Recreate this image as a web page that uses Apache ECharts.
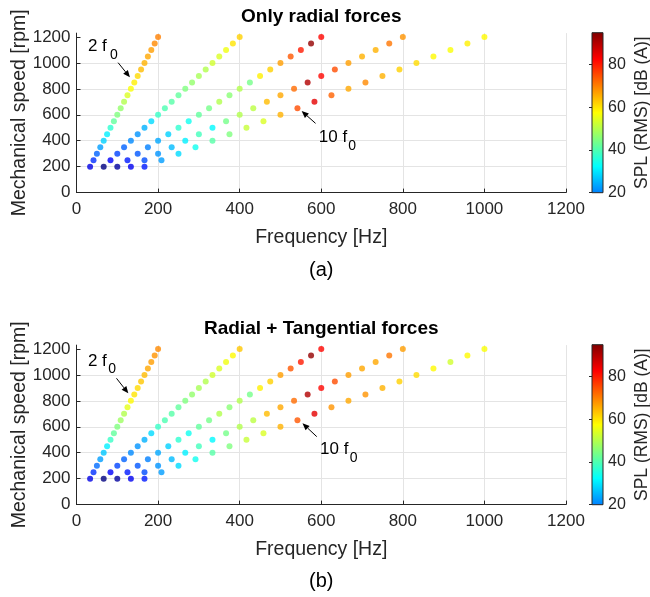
<!DOCTYPE html>
<html>
<head>
<meta charset="utf-8">
<script src="https://cdn.jsdelivr.net/npm/echarts@6/dist/echarts.min.js"></script>
<style>
  html, body { margin: 0; padding: 0; background: #ffffff; }
  #chart { width: 650px; height: 597px; }
</style>
</head>
<body>
<div id="chart"></div>
<script>
// Operating speeds of the sweep [rpm]
const speeds = [200, 250, 300, 350, 400, 450, 500, 550, 600, 650, 700,
                750, 800, 850, 900, 950, 1000, 1050, 1100, 1150, 1200];
// Harmonic orders of the electrical frequency f0 (5 pole pairs)
const orders = [2, 4, 6, 8, 10];
const polePairs = 5;

// SPL (RMS) [dB(A)] per harmonic order, one value per speed — radial forces only
const splRadial2f0  = [5, 12, 17, 23, 28, 31, 37, 42, 45, 47, 50, 54, 57, 59, 61, 64, 65, 66, 67, 69, 70];
const splRadial4f0  = [-5, 7, 14, 17, 21, 22, 25, 29, 38, 40, 41, 42, 45, 47, 49, 50, 53, 54, 56, 60, 62];
const splRadial6f0  = [-2, 10, 16, 20, 24, 28, 37, 34, 42, 44, 50, 46, 50, 44, 59, 62, 67, 74, 80, 93, 82];
const splRadial8f0  = [6, 15, 22, 26, 31, 39, 32, 44, 50, 51, 64, 66, 72, 90, 82, 75, 67, 65, 65, 71, 68];
const splRadial10f0 = [10, 23, 29, 34, 41, 45, 52, 54, 65, 75, 85, 73, 66, 69, 65, 62, 61, 58, 57, 59, 58];

// SPL (RMS) [dB(A)] per harmonic order — radial + tangential forces
const splTotal2f0  = [5, 12, 18, 23, 27, 31, 38, 42, 45, 48, 50, 55, 58, 60, 61, 63, 64, 66, 67, 68, 69];
const splTotal4f0  = [-5, 7, 14, 17, 21, 22, 25, 29, 38, 40, 41, 42, 45, 47, 49, 50, 53, 54, 56, 58, 63];
const splTotal6f0  = [-2, 10, 16, 20, 24, 28, 37, 34, 42, 44, 50, 46, 50, 44, 59, 62, 67, 74, 80, 93, 82];
const splTotal8f0  = [6, 15, 22, 26, 31, 39, 32, 44, 50, 51, 64, 66, 72, 90, 82, 75, 67, 66, 66, 71, 67];
const splTotal10f0 = [10, 23, 29, 34, 41, 45, 52, 54, 65, 74, 85, 68, 66, 68, 65, 62, 61, 58, 53, 58, 57];

// Axis ticks
const freqTicks = [0, 200, 400, 600, 800, 1000, 1200];
const speedTicks = [0, 200, 400, 600, 800, 1000, 1200];
const splTicks = [20, 40, 60, 80];

const FONT = "'Liberation Sans', Arial, Helvetica, sans-serif";
const INK = '#262626';
const GRID_LINE = '#e4e4e4';

// MATLAB-style jet colormap, evenly spaced stops
const jet = ['#00007f', '#0000ff', '#007fff', '#00ffff', '#7fff7f',
             '#ffff00', '#ff7f00', '#ff0000', '#7f0000'];
const colorMin = -5, colorMax = 95;
const barMin = 20, barMax = 95;

function buildPoints(tables) {
  const pts = [];
  orders.forEach((k, i) => {
    speeds.forEach((n, j) => {
      const f = k * polePairs * n / 60;  // harmonic frequency [Hz]
      pts.push([f, n, tables[i][j]]);
    });
  });
  return pts;
}
const radialPoints = buildPoints([splRadial2f0, splRadial4f0, splRadial6f0, splRadial8f0, splRadial10f0]);
const totalPoints = buildPoints([splTotal2f0, splTotal4f0, splTotal6f0, splTotal8f0, splTotal10f0]);

// Layout of the two panels (pixels)
const plotLeft = 76.5, plotWidth = 489.5, plotHeight = 159.5;
const panelTops = [33.1, 345.1];
const cbLeft = 592, cbWidth = 11;
const cbTops = [32.7, 344.7], cbHeight = 160;

const plain = v => String(v);

function mainAxes(idx) {
  const x = {
    gridIndex: idx, type: 'value', min: 0, max: 1200, interval: 200,
    axisLine: { show: true, onZero: false, lineStyle: { color: INK, width: 1 } },
    axisTick: { show: true, inside: true, length: 4, lineStyle: { color: INK } },
    axisLabel: { fontSize: 17, color: INK, margin: 8, fontFamily: FONT, customValues: freqTicks, formatter: plain },
    splitLine: { show: true, lineStyle: { color: GRID_LINE, width: 1 } },
    name: 'Frequency [Hz]', nameLocation: 'middle', nameGap: 35, nameMoveOverlap: false,
    nameTextStyle: { fontSize: 19.5, color: INK, fontFamily: FONT }
  };
  const y = {
    gridIndex: idx, type: 'value', min: 0, max: 1230, interval: 200,
    axisLine: { show: true, onZero: false, lineStyle: { color: INK, width: 1 } },
    axisTick: { show: true, inside: true, length: 4, lineStyle: { color: INK }, customValues: speedTicks },
    axisLabel: { fontSize: 17, color: INK, margin: 6, fontFamily: FONT, customValues: speedTicks, formatter: plain },
    splitLine: { show: true, showMaxLine: false, lineStyle: { color: GRID_LINE, width: 1 } },
    name: 'Mechanical speed [rpm]', nameLocation: 'middle', nameGap: 47, nameMoveOverlap: false,
    nameTextStyle: { fontSize: 19.5, color: INK, fontFamily: FONT }
  };
  return [x, y];
}

function colorbarAxes(idx) {
  const x = { gridIndex: idx, type: 'value', min: 0, max: 1, show: false };
  const y = {
    gridIndex: idx, type: 'value', position: 'right', min: barMin, max: barMax, interval: 20,
    axisLine: { show: false },
    axisTick: { show: true, inside: true, length: 3, lineStyle: { color: INK }, customValues: splTicks },
    axisLabel: { fontSize: 16, color: INK, margin: 5, fontFamily: FONT, customValues: splTicks, formatter: plain },
    splitLine: { show: false },
    name: 'SPL (RMS) [dB (A)]', nameLocation: 'middle', nameGap: 30, nameRotate: 90,
    nameTextStyle: { fontSize: 17.5, color: INK, fontFamily: FONT }
  };
  return [x, y];
}

const a0 = mainAxes(0), a1 = mainAxes(1), c0 = colorbarAxes(2), c1 = colorbarAxes(3);

// Colorbar gradient covering barMin..barMax of the jet range
function barGradient() {
  const stops = [];
  const step = (colorMax - colorMin) / (jet.length - 1);
  for (let i = 0; i < jet.length; i++) {
    const v = colorMin + step * i;
    if (v + step <= barMin) continue;
    const off = (barMax - v) / (barMax - barMin);
    stops.push({ offset: Math.min(1, Math.max(0, off)), color: jet[i] });
  }
  return new echarts.graphic.LinearGradient(0, 0, 0, 1, stops.sort((p, q) => p.offset - q.offset));
}

const chart = echarts.init(document.getElementById('chart'), null, { renderer: 'canvas' });

const gridBase = { containLabel: false, outerBoundsMode: 'none' };

const option = {
  animation: false,
  backgroundColor: '#ffffff',
  textStyle: { fontFamily: FONT },
  title: [
    { text: 'Only radial forces', left: plotLeft + plotWidth / 2, top: 7, textAlign: 'center', padding: 0,
      textStyle: { fontSize: 19, fontWeight: 'bold', color: '#000', fontFamily: FONT } },
    { text: 'Radial + Tangential forces', left: plotLeft + plotWidth / 2, top: 319, textAlign: 'center', padding: 0,
      textStyle: { fontSize: 19, fontWeight: 'bold', color: '#000', fontFamily: FONT } }
  ],
  grid: [
    Object.assign({ left: plotLeft, top: panelTops[0], width: plotWidth, height: plotHeight }, gridBase),
    Object.assign({ left: plotLeft, top: panelTops[1], width: plotWidth, height: plotHeight }, gridBase),
    Object.assign({ left: cbLeft, top: cbTops[0], width: cbWidth, height: cbHeight }, gridBase),
    Object.assign({ left: cbLeft, top: cbTops[1], width: cbWidth, height: cbHeight }, gridBase)
  ],
  xAxis: [a0[0], a1[0], c0[0], c1[0]],
  yAxis: [a0[1], a1[1], c0[1], c1[1]],
  visualMap: {
    type: 'continuous', show: false, min: colorMin, max: colorMax, dimension: 2,
    seriesIndex: [0, 1], inRange: { color: jet }
  },
  series: [
    { name: 'Only radial forces', type: 'scatter', xAxisIndex: 0, yAxisIndex: 0,
      symbol: 'circle', symbolSize: 6, data: radialPoints },
    { name: 'Radial + Tangential forces', type: 'scatter', xAxisIndex: 1, yAxisIndex: 1,
      symbol: 'circle', symbolSize: 6, data: totalPoints }
  ]
};
chart.setOption(option);

// Annotations anchored in data coordinates: label, its subscript, arrow tail and tip
const annotations = [
  { grid: 0, main: '2 f', at: [28, 1131], sub: [82, 1061], tail: [102, 1002], tip: [131, 889] },
  { grid: 0, main: '10 f', at: [594, 429], sub: [666, 359], tail: [586, 534], tip: [552, 629] },
  { grid: 1, main: '2 f', at: [28, 1107], sub: [78, 1046], tail: [98, 974], tip: [127, 858] },
  { grid: 1, main: '10 f', at: [597, 429], sub: [670, 359], tail: [589, 524], tip: [554, 627] }
];

function arrowShapes(p0, p1) {
  const dx = p1[0] - p0[0], dy = p1[1] - p0[1];
  const len = Math.hypot(dx, dy), ux = dx / len, uy = dy / len;
  const hl = 7, hw = 3;
  const base = [p1[0] - ux * hl, p1[1] - uy * hl];
  return [
    { type: 'line', shape: { x1: p0[0], y1: p0[1], x2: base[0], y2: base[1] },
      style: { stroke: '#000', lineWidth: 1 }, z: 10 },
    { type: 'polygon', shape: { points: [p1, [base[0] - uy * hw, base[1] + ux * hw], [base[0] + uy * hw, base[1] - ux * hw]] },
      style: { fill: '#000' }, z: 10 }
  ];
}

const graphics = [];
annotations.forEach(a => {
  const px = v => chart.convertToPixel({ gridIndex: a.grid }, v);
  const t = px(a.at), s = px(a.sub);
  graphics.push({ type: 'text', x: t[0], y: t[1], z: 10,
    style: { text: a.main, fontSize: 17, fill: '#000', fontFamily: FONT, textAlign: 'left', textVerticalAlign: 'middle' } });
  graphics.push({ type: 'text', x: s[0], y: s[1], z: 10,
    style: { text: '0', fontSize: 14, fill: '#000', fontFamily: FONT, textAlign: 'left', textVerticalAlign: 'middle' } });
  graphics.push(...arrowShapes(px(a.tail), px(a.tip)));
});

// Colorbars
cbTops.forEach((top, i) => {
  const yTop = chart.convertToPixel({ yAxisIndex: 2 + i }, barMax);
  const yBot = chart.convertToPixel({ yAxisIndex: 2 + i }, barMin);
  graphics.push({ type: 'rect', shape: { x: cbLeft, y: yTop, width: cbWidth, height: yBot - yTop },
    style: { fill: barGradient(), stroke: INK, lineWidth: 1 }, z: 1 });
});

// Panel captions
['(a)', '(b)'].forEach((txt, i) => {
  graphics.push({ type: 'text', x: plotLeft + plotWidth / 2, y: [270, 581][i],
    style: { text: txt, fontSize: 20, fill: '#000', fontFamily: FONT, textAlign: 'center', textVerticalAlign: 'middle' } });
});

chart.setOption({ graphic: graphics });
</script>
</body>
</html>
